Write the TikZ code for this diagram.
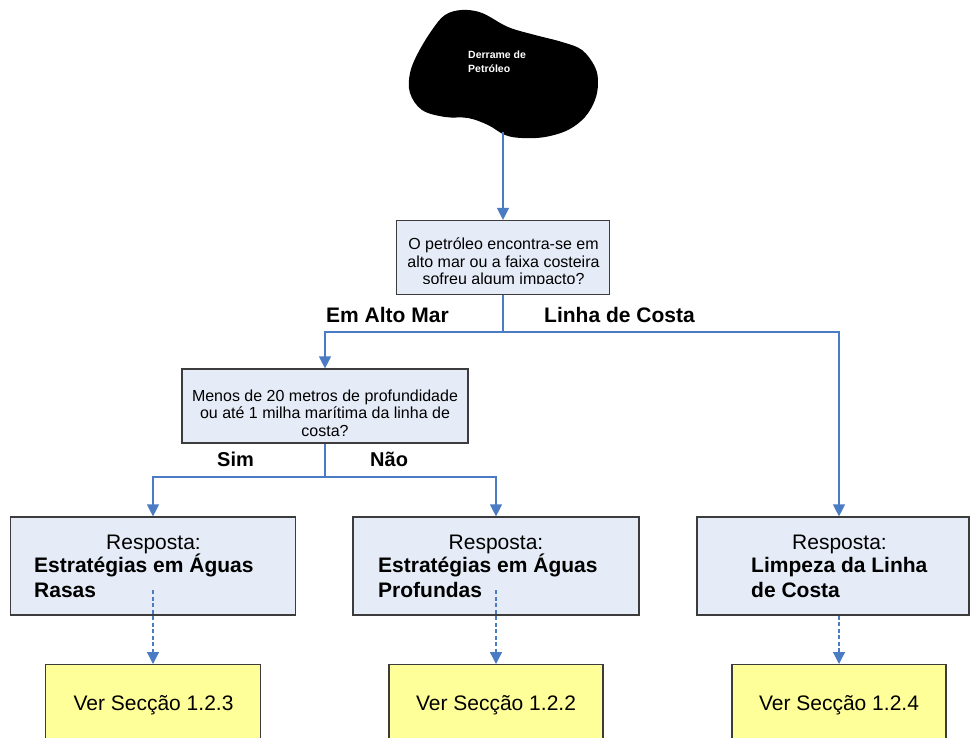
\documentclass[tikz,border=0pt]{standalone}
\usepackage{fontspec}
\setmainfont{Liberation Sans}
\usetikzlibrary{arrows.meta}
\definecolor{conn}{HTML}{4A7CC4}
\definecolor{boxfill}{HTML}{E6ECF7}
\definecolor{boxline}{HTML}{3C3C3C}
\definecolor{yel}{HTML}{FFFF99}
\begin{document}
\begin{tikzpicture}[x=1pt,y=-1pt,
  qbox/.style={draw=boxline, line width=1.2pt, fill=boxfill, inner sep=0pt},
  ybox/.style={draw=boxline, line width=1.2pt, fill=yel, inner sep=0pt},
  arr/.style={draw=conn, line width=1.3pt, -{Triangle[width=12pt,length=12pt]}},
  ln/.style={draw=conn, line width=1.3pt},
  darr/.style={arr, dash pattern=on 4pt off 2.5pt},
  qtext/.style={font=\fontsize{16}{17.7}\selectfont, align=center, inner sep=0pt},
  lbl/.style={font=\fontsize{21}{25}\selectfont\bfseries, inner sep=0pt, anchor=base west},
  resp/.style={font=\fontsize{21}{25}\selectfont, inner sep=0pt, anchor=base},
  ans/.style={font=\fontsize{21}{25}\selectfont\bfseries, inner sep=0pt, anchor=base west},
  ver/.style={font=\fontsize{21}{25}\selectfont, inner sep=0pt, anchor=base}]
\clip (0,0) rectangle (970,738);
\fill[white] (0,0) rectangle (970,738);
% spill blob
\fill[black] plot[smooth cycle, tension=0.6] coordinates {(445,15) (462,10) (482,13) (508,27) (535,35) (562,42) (582,50) (595,67) (598,83) (595,100) (585,117) (568,130) (545,137) (522,138) (505,135) (488,125) (468,118) (445,117) (422,110) (410,93) (410,73) (418,53) (432,30)};
\node[font=\fontsize{10.5}{13.3}\selectfont\bfseries, text=white, inner sep=0pt, anchor=base west] (spill1) at (468,59) {Derrame de};
\node[font=\fontsize{10.5}{13.3}\selectfont\bfseries, text=white, inner sep=0pt, anchor=base west] (spill2) at (468,72.5) {Petróleo};
\coordinate (spillb) at (503,132);
% question 1
\node[qbox, minimum width=213pt, minimum height=74pt] (q1) at (503,257.5) {};
\begin{scope}
\clip (397,221) rectangle (610,284);
\node[qtext] (q1t) at (503.5,263) {O petróleo encontra-se em\\alto mar ou a faixa costeira\\sofreu algum impacto?};
\end{scope}
% question 2
\node[qbox, minimum width=286pt, minimum height=74pt] (q2) at (325,406) {};
\node[qtext] (q2t) at (325,413) {Menos de 20 metros de profundidade\\ou até 1 milha marítima da linha de\\costa?};
% answer boxes
\node[qbox, minimum width=285pt, minimum height=98pt] (bA) at (153,566) {};
\node[qbox, minimum width=286pt, minimum height=98pt] (bB) at (496,566) {};
\node[qbox, minimum width=272pt, minimum height=98pt] (bC) at (833,566) {};
\node[resp] (rA) at (153.5,549) {Resposta:};
\node[ans] (aA1) at (34,572) {Estratégias em Águas};
\node[ans] (aA2) at (34,597) {Rasas};
\node[resp] (rB) at (496,549) {Resposta:};
\node[ans] (aB1) at (378,572) {Estratégias em Águas};
\node[ans] (aB2) at (378,597) {Profundas};
\node[resp] (rC) at (839.5,549) {Resposta:};
\node[ans] (aC1) at (751,572) {Limpeza da Linha};
\node[ans] (aC2) at (751,597) {de Costa};
% yellow boxes
\node[ybox, minimum width=215pt, minimum height=100pt, anchor=north] (yA) at (153,664) {};
\node[ybox, minimum width=214pt, minimum height=100pt, anchor=north] (yB) at (496,664) {};
\node[ybox, minimum width=214pt, minimum height=100pt, anchor=north] (yC) at (839,664) {};
\node[ver] (vA) at (153.5,710) {Ver Secção 1.2.3};
\node[ver] (vB) at (496,710) {Ver Secção 1.2.2};
\node[ver] (vC) at (839,710) {Ver Secção 1.2.4};
% labels
\node[lbl] (lMar) at (326,323) {Em Alto Mar};
\node[lbl] (lCosta) at (544,323) {Linha de Costa};
\node[lbl, font=\fontsize{20}{24}\selectfont\bfseries] (lSim) at (217,466) {Sim};
\node[lbl, font=\fontsize{20}{24}\selectfont\bfseries] (lNao) at (370,466) {Não};
% connectors
\draw[arr] (spillb) -- (q1.north);
\coordinate (j1) at (503,332);
\draw[ln] (q1.south) -- (j1);
\draw[arr] (j1) -| (q2.north);
\draw[arr] (j1) -| (yC.north |- bC.north);
\coordinate (j2) at (325,477);
\draw[ln] (q2.south) -- (j2);
\draw[arr] (j2) -| (bA.north);
\draw[arr] (j2) -| (bB.north);
\coordinate (dA) at (153,590);
\coordinate (dB) at (496,590);
\draw[darr] (dA) -- (yA.north);
\draw[darr] (dB) -- (yB.north);
\draw[darr] (bC.south -| yC.north) -- (yC.north);
\end{tikzpicture}
\end{document}
